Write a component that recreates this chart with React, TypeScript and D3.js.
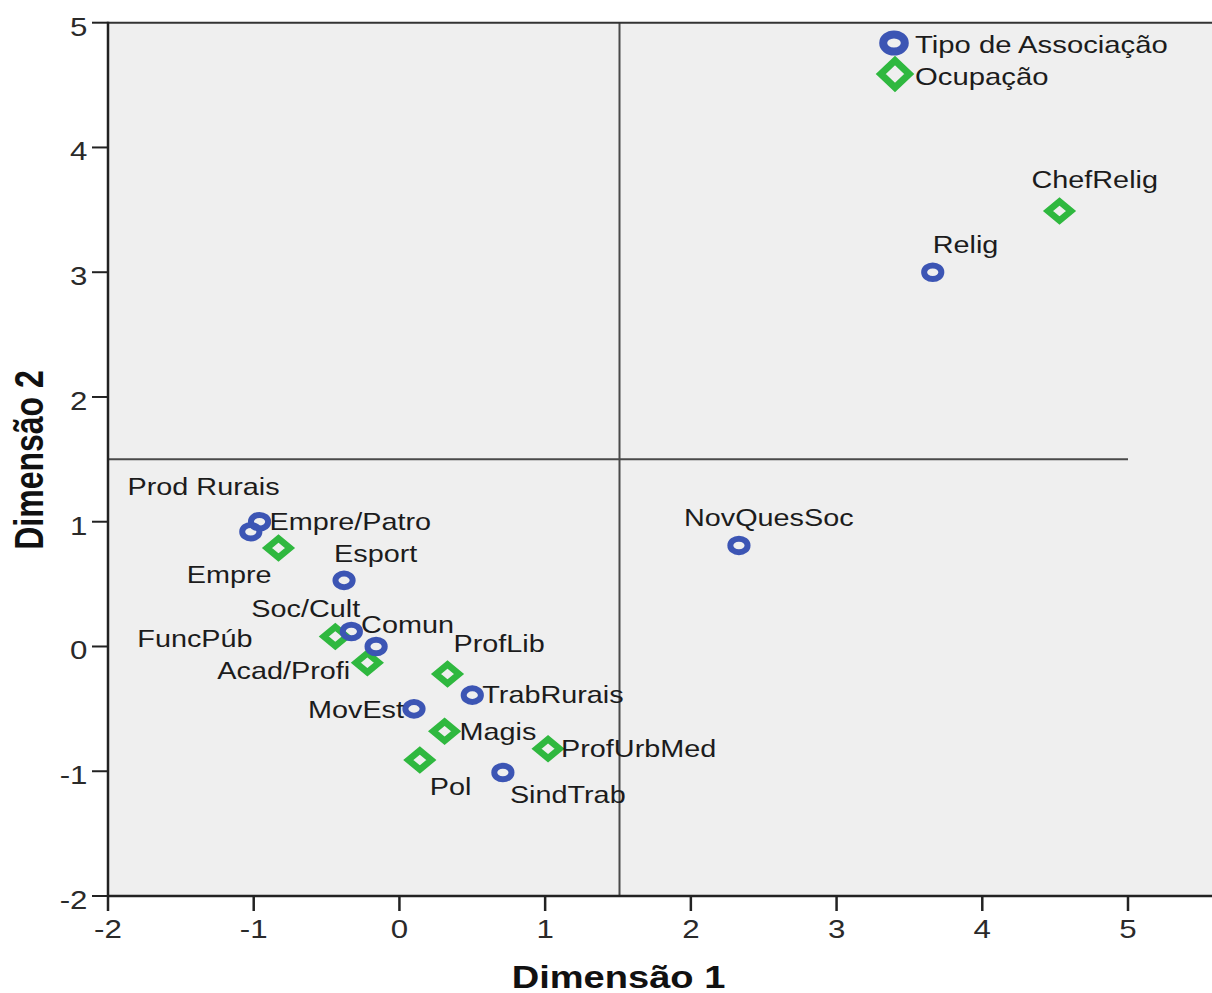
import * as d3 from 'd3';

// coordenadas das categorias (Dimensão 1, Dimensão 2)
const assocNames = ['Relig', 'NovQuesSoc', 'Prod Rurais', 'Empre', 'Esport', 'Soc/Cult', 'Comun', 'TrabRurais', 'MovEst', 'SindTrab'];
const assocDim1 = [3.66, 2.33, -0.96, -1.02, -0.38, -0.33, -0.16, 0.50, 0.10, 0.71];
const assocDim2 = [3.00, 0.81, 1.00, 0.92, 0.53, 0.12, 0.00, -0.39, -0.50, -1.01];

const occNames = ['ChefRelig', 'Empre/Patro', 'FuncPúb', 'Acad/Profi', 'ProfLib', 'Magis', 'ProfUrbMed', 'Pol'];
const occDim1 = [4.53, -0.83, -0.44, -0.22, 0.33, 0.31, 1.02, 0.14];
const occDim2 = [3.49, 0.79, 0.08, -0.13, -0.22, -0.68, -0.82, -0.91];

const refDim1 = 1.5;
const refDim2 = 1.5;

const legendNames = ['Tipo de Associação', 'Ocupação'];

// label placement relative to the marker (left edge, baseline)
const labelOffset: Record<string, [number, number]> = {
  'Relig': [0, -19],
  'NovQuesSoc': [-55, -19],
  'Prod Rurais': [-132, -27],
  'Empre': [-64, 51],
  'Esport': [-10, -18],
  'Soc/Cult': [-100, -15],
  'Comun': [-15, -13],
  'TrabRurais': [10, 8],
  'MovEst': [-106, 9],
  'SindTrab': [7, 31],
  'ChefRelig': [-28, -23],
  'Empre/Patro': [-9, -18],
  'FuncPúb': [-198, 10],
  'Acad/Profi': [-150, 16],
  'ProfLib': [6, -22],
  'Magis': [15, 9],
  'ProfUrbMed': [13, 8],
  'Pol': [10, 35],
};

const W = 1212;
const H = 993;
const BLUE = '#3c55b4';
const GREEN = '#2fb83f';
const FONT = '"Liberation Sans", Arial, sans-serif';
const SX = 1.2; // text is drawn a bit wider than tall

function SText({ x, y, size, weight = 'normal', anchor = 'start', sx = SX, fill = '#1c1c1c', rotate = 0, children }: any) {
  const rot = rotate ? ` rotate(${rotate})` : '';
  return (
    <text
      transform={`translate(${x},${y}) scale(${sx},1)${rot}`}
      fontFamily={FONT}
      fontSize={size}
      fontWeight={weight}
      textAnchor={anchor}
      fill={fill}
    >
      {children}
    </text>
  );
}

function Ring({ cx, cy, rx = 8.6, ry = 6.8, sw = 6 }: any) {
  return <ellipse cx={cx} cy={cy} rx={rx} ry={ry} fill="none" stroke={BLUE} strokeWidth={sw} />;
}

function Diamond({ cx, cy, hx = 11.5, hy = 9.5, sw = 6.5 }: any) {
  const d = `M${cx - hx},${cy}L${cx},${cy - hy}L${cx + hx},${cy}L${cx},${cy + hy}Z`;
  return <path d={d} fill="none" stroke={GREEN} strokeWidth={sw} strokeLinejoin="miter" />;
}

export default function App() {
  const x = d3.scaleLinear().domain([-2, 5]).range([108, 1128]);
  const y = d3.scaleLinear().domain([-2, 5]).range([896, 22.7]);
  const x0 = x(-2);
  const yTop = y(5);
  const yBot = y(-2);

  const assoc = assocNames.map((n, i) => ({ name: n, px: x(assocDim1[i]), py: y(assocDim2[i]) }));
  const occ = occNames.map((n, i) => ({ name: n, px: x(occDim1[i]), py: y(occDim2[i]) }));

  return (
    <svg width={W} height={H} style={{ position: 'absolute', left: 0, top: 0, background: '#fff' }}>
      <rect x={x0} y={yTop} width={W - x0} height={yBot - yTop} fill="#efefef" />

      {/* reference lines */}
      <line x1={x(refDim1) + 1.5} x2={x(refDim1) + 1.5} y1={yTop} y2={yBot} stroke="#4a4a4a" strokeWidth={2} />
      <line x1={x0} x2={x(5)} y1={y(refDim2)} y2={y(refDim2)} stroke="#4a4a4a" strokeWidth={2} />

      {/* frame */}
      <line x1={x0} x2={W} y1={yTop} y2={yTop} stroke="#333" strokeWidth={2} />
      <line x1={x0} x2={W} y1={yBot} y2={yBot} stroke="#222" strokeWidth={2.5} />
      <line x1={x0} x2={x0} y1={yTop - 1} y2={yBot} stroke="#222" strokeWidth={2.5} />

      {/* y axis */}
      {y.ticks(7).map(t => (
        <g key={`y${t}`}>
          <line x1={92} x2={x0} y1={y(t)} y2={y(t)} stroke="#222" strokeWidth={2} />
          <SText x={87.5} y={y(t) + 13} size={25} anchor="end" sx={1.25} fill="#2a2a2a">{t}</SText>
        </g>
      ))}
      {/* x axis */}
      {x.ticks(7).map(t => (
        <g key={`x${t}`}>
          <line x1={x(t)} x2={x(t)} y1={yBot} y2={yBot + 15} stroke="#222" strokeWidth={2.5} />
          <SText x={x(t)} y={938} size={25} anchor="middle" sx={1.25} fill="#2a2a2a">{t}</SText>
        </g>
      ))}

      <SText x={618.5} y={988} size={32} weight="bold" anchor="middle" sx={1.19} fill="#111">Dimensão 1</SText>
      <SText x={43} y={460} size={32} weight="bold" anchor="middle" sx={1.25} rotate={-90} fill="#111">Dimensão 2</SText>

      {/* points */}
      {occ.map(d => <Diamond key={d.name} cx={d.px} cy={d.py} />)}
      {assoc.map(d => <Ring key={d.name} cx={d.px} cy={d.py} />)}

      {[...assoc, ...occ].map(d => {
        const [dx, dy] = labelOffset[d.name] || [8, -10];
        return <SText key={`l${d.name}`} x={d.px + dx} y={d.py + dy} size={24}>{d.name}</SText>;
      })}

      {/* legend */}
      <Ring cx={894} cy={43} rx={10.8} ry={8.6} sw={8} />
      <SText x={915} y={53} size={24} sx={1.22}>{legendNames[0]}</SText>
      <Diamond cx={895} cy={74} hx={14.2} hy={13.5} sw={7} />
      <SText x={915} y={85} size={24} sx={1.22}>{legendNames[1]}</SText>
    </svg>
  );
}
